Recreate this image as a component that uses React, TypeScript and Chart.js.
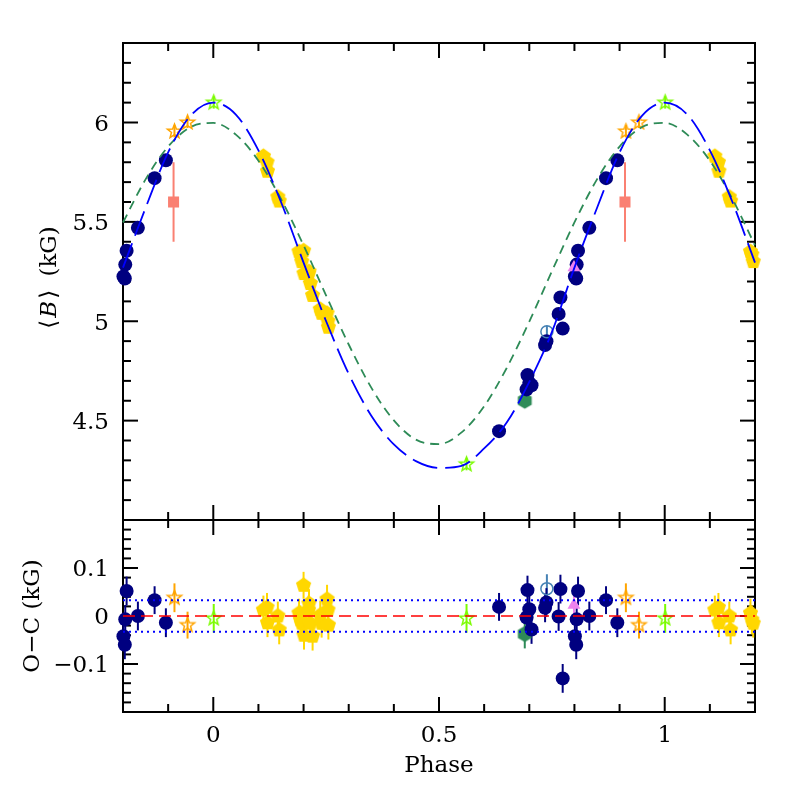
import React, { useEffect, useRef } from 'react';
import { Chart, registerables } from 'chart.js';

Chart.register(...registerables);

// ---------- axis ranges & tick labels ----------
const X_MIN = -0.2;
const X_MAX = 1.2;
const TOP_Y_MIN = 4.0;
const TOP_Y_MAX = 6.4;
const OC_MIN = -0.2;
const OC_MAX = 0.2;

const xTickValues = [0, 0.5, 1];
const xTickLabels = ['0', '0.5', '1'];
const topYTickValues = [4.5, 5, 5.5, 6];
const topYTickLabels = ['4.5', '5', '5.5', '6'];
const ocTickValues = [-0.1, 0, 0.1];
const ocTickLabels = ['\u22120.1', '0', '0.1'];

// ---------- model curves ----------
const curvePhase = [
  -0.2, -0.15, -0.1, -0.05, 0, 0.05, 0.1, 0.15, 0.2, 0.25, 0.3, 0.35, 0.4, 0.45, 0.5,
  0.55, 0.6, 0.65, 0.7, 0.75, 0.8, 0.85, 0.9, 0.95, 1.0, 1.05, 1.1, 1.15, 1.2,
];
const fitB = [
  5.27, 5.57, 5.85, 6.035, 6.1, 6.04, 5.86, 5.6, 5.295, 5.0, 4.735, 4.525, 4.38, 4.295, 4.262,
  4.272, 4.36, 4.49, 4.695, 4.945, 5.27, 5.57, 5.85, 6.035, 6.1, 6.04, 5.86, 5.6, 5.295,
];
const sineB = [
  5.497, 5.714, 5.879, 5.977, 5.998, 5.939, 5.808, 5.615, 5.382, 5.129, 4.883, 4.666, 4.501, 4.403, 4.382,
  4.441, 4.572, 4.765, 4.998, 5.251, 5.497, 5.714, 5.879, 5.977, 5.998, 5.939, 5.808, 5.615, 5.382,
];
const ocBand = 0.033;

// ---------- observations (phase in [0,1)) ----------
const navyPhase = [0.633, 0.694, 0.696, 0.7, 0.705, 0.735, 0.738, 0.765, 0.769, 0.774, 0.801, 0.804, 0.805, 0.808, 0.833, 0.87, 0.895];
const navyB = [4.447, 4.657, 4.729, 4.69, 4.678, 4.88, 4.9, 5.037, 5.12, 4.963, 5.225, 5.215, 5.285, 5.355, 5.47, 5.72, 5.81];
const navyOC = [0.019, -0.003, 0.054, 0.014, -0.028, 0.017, 0.028, -0.001, 0.056, -0.13, -0.042, -0.06, -0.007, 0.052, 0.0, 0.033, -0.014];
const navyErr = [0.029, 0.03, 0.03, 0.03, 0.03, 0.03, 0.03, 0.03, 0.03, 0.03, 0.03, 0.03, 0.03, 0.03, 0.03, 0.029, 0.03];

const goldPhase = [0.111, 0.119, 0.12, 0.143, 0.146, 0.19, 0.193, 0.196, 0.2, 0.201, 0.211, 0.212, 0.215, 0.22, 0.237, 0.24, 0.252, 0.254, 0.255];
const goldB = [5.83, 5.8, 5.755, 5.625, 5.605, 5.35, 5.336, 5.3, 5.355, 5.24, 5.24, 5.25, 5.19, 5.13, 5.06, 5.04, 5.04, 5.0, 4.97];
const goldOC = [0.0125, 0.018, -0.014, 0.0, -0.029, 0.006, -0.008, -0.015, 0.064, -0.04, 0.0125, 0.026, -0.015, -0.042, 0.002, -0.015, 0.035, 0.0125, -0.019];
const goldErr = [0.03, 0.03, 0.03, 0.03, 0.03, 0.03, 0.03, 0.03, 0.028, 0.03, 0.03, 0.03, 0.03, 0.03, 0.03, 0.03, 0.03, 0.03, 0.03];

const orangePhase = [0.914, 0.943];
const orangeB = [5.955, 6.0];
const orangeOC = [0.038, -0.019];
const orangeErr = [0.03, 0.028];

const limePhase = [0.001, 0.561];
const limeB = [6.1, 4.28];
const limeOC = [-0.005, -0.005];
const limeErr = [0.03, 0.03];

const salmonPhase = [0.912];
const salmonB = [5.6];
const salmonErr = [0.2];

const steelPhase = [0.739];
const steelB = [4.947];
const steelOC = [0.057];
const steelErr = [0.03];

const violetPhase = [0.799];
const violetB = [5.27];
const violetOC = [0.023];
const violetErr = [0.028];

const hexPhase = [0.69];
const hexB = [4.6];
const hexOC = [-0.0375];
const hexErr = [0.03];

// ---------- helpers ----------
type Pt = { x: number; y: number; e?: number };

function wrapPhases(phases: number[], vals: number[], errs?: number[]): Pt[] {
  const out: Pt[] = [];
  phases.forEach((p, i) => {
    for (const s of [-1, 0, 1]) {
      const x = +(p + s).toFixed(4);
      if (x >= X_MIN && x < X_MAX - 0.001) out.push({ x, y: vals[i], e: errs ? errs[i] : undefined });
    }
  });
  return out;
}

function curve(xs: number[], ys: number[]): Pt[] {
  return xs.map((x, i) => ({ x, y: ys[i] }));
}

function polyCanvas(n: number, r: number, fill: string | null, stroke: string | null, lw: number, inner?: number) {
  const size = Math.ceil(2 * (r + lw)) + 3;
  const c = document.createElement('canvas');
  c.width = size;
  c.height = size;
  const g = c.getContext('2d')!;
  g.translate(size / 2, size / 2);
  g.beginPath();
  const cnt = inner ? n * 2 : n;
  for (let k = 0; k < cnt; k++) {
    const rr = inner ? (k % 2 === 0 ? r : inner) : r;
    const a = -Math.PI / 2 + (k * 2 * Math.PI) / cnt;
    const px = rr * Math.cos(a);
    const py = rr * Math.sin(a);
    if (k === 0) g.moveTo(px, py);
    else g.lineTo(px, py);
  }
  g.closePath();
  if (fill) {
    g.fillStyle = fill;
    g.fill();
  }
  if (stroke) {
    g.strokeStyle = stroke;
    g.lineWidth = lw;
    g.lineJoin = 'miter';
    g.stroke();
  }
  return c;
}

const FONT = '23px "DejaVu Serif"';

type TitlePart = { text: string; italic?: boolean; gap?: number };

type AxesCfg = {
  yMin: number;
  yMax: number;
  yMinorStep: number;
  yMajor: number[];
  yLabels: string[];
  yTitle: TitlePart[];
  yTitleX: number;
  yTitleShift: number;
  showXLabels: boolean;
};

function near(a: number, b: number) {
  return Math.abs(a - b) < 1e-6;
}

function makeAxesPlugin(cfg: AxesCfg) {
  return {
    id: 'axesFrame',
    beforeDatasetsDraw(chart: any) {
      const { ctx, chartArea: a, scales } = chart;
      const xs = scales.x;
      const ys = scales.y;
      ctx.save();
      ctx.strokeStyle = '#000';
      ctx.lineWidth = 2;
      ctx.lineCap = 'butt';
      ctx.strokeRect(a.left, a.top, a.right - a.left, a.bottom - a.top);
      const seg = (x1: number, y1: number, x2: number, y2: number) => {
        ctx.beginPath();
        ctx.moveTo(x1, y1);
        ctx.lineTo(x2, y2);
        ctx.stroke();
      };
      // x ticks (top and bottom edges, inward)
      const nx = Math.round((X_MAX - X_MIN) / 0.1);
      for (let i = 0; i <= nx; i++) {
        const v = X_MIN + i * 0.1;
        const major = xTickValues.some((m) => near(m, v));
        const L = major ? 15 : 8;
        const px = xs.getPixelForValue(v);
        seg(px, a.bottom, px, a.bottom - L);
        seg(px, a.top, px, a.top + L);
      }
      // y ticks (left and right edges, inward)
      const ny = Math.round((cfg.yMax - cfg.yMin) / cfg.yMinorStep);
      for (let i = 0; i <= ny; i++) {
        const v = cfg.yMin + i * cfg.yMinorStep;
        const major = cfg.yMajor.some((m) => near(m, v));
        const L = major ? 15 : 8;
        const py = ys.getPixelForValue(v);
        seg(a.left, py, a.left + L, py);
        seg(a.right, py, a.right - L, py);
      }
      // tick labels
      ctx.fillStyle = '#000';
      ctx.font = FONT;
      ctx.textBaseline = 'alphabetic';
      ctx.textAlign = 'right';
      cfg.yMajor.forEach((v, i) => {
        ctx.fillText(cfg.yLabels[i], a.left - 14, ys.getPixelForValue(v) + 8.4);
      });
      if (cfg.showXLabels) {
        ctx.textAlign = 'center';
        xTickValues.forEach((v, i) => {
          ctx.fillText(xTickLabels[i], xs.getPixelForValue(v), a.bottom + 30);
        });
        ctx.fillText('Phase', xs.getPixelForValue(0.5), a.bottom + 60);
      }
      // rotated y title
      ctx.save();
      ctx.translate(cfg.yTitleX, (a.top + a.bottom) / 2 + cfg.yTitleShift);
      ctx.rotate(-Math.PI / 2);
      const fonts = cfg.yTitle.map((p) => (p.italic ? 'italic ' : '') + FONT);
      const widths = cfg.yTitle.map((p, i) => {
        ctx.font = fonts[i];
        return ctx.measureText(p.text).width + (p.gap || 0);
      });
      let x0 = -widths.reduce((s, w) => s + w, 0) / 2;
      ctx.textAlign = 'left';
      cfg.yTitle.forEach((p, i) => {
        ctx.font = fonts[i];
        ctx.fillText(p.text, x0, 0);
        x0 += widths[i];
      });
      ctx.restore();

      // error bars
      ctx.lineWidth = 2;
      chart.data.datasets.forEach((ds: any) => {
        if (!ds.errColor) return;
        ctx.strokeStyle = ds.errColor;
        ds.data.forEach((p: Pt) => {
          if (!p.e) return;
          const px = xs.getPixelForValue(p.x);
          seg(px, ys.getPixelForValue(p.y - p.e), px, ys.getPixelForValue(p.y + p.e));
        });
      });
      ctx.restore();
    },
  };
}

function pointSet(data: Pt[], style: any, color: string, order: number, extra: any = {}) {
  return {
    data,
    showLine: false,
    pointStyle: style,
    pointRadius: 7,
    pointBackgroundColor: color,
    pointBorderColor: color,
    pointBorderWidth: 0,
    errColor: color,
    clip: false,
    order,
    ...extra,
  };
}

function lineSet(data: Pt[], color: string, dash: number[], width: number, order: number) {
  return {
    data,
    showLine: true,
    borderColor: color,
    borderWidth: width,
    borderDash: dash,
    pointRadius: 0,
    cubicInterpolationMode: 'monotone',
    fill: false,
    clip: false,
    order,
  };
}

function baseOptions(padding: any, yMin: number, yMax: number) {
  return {
    animation: false,
    responsive: false,
    devicePixelRatio: 1,
    events: [],
    layout: { padding, autoPadding: false },
    plugins: { legend: { display: false }, tooltip: { enabled: false } },
    scales: {
      x: { type: 'linear', min: X_MIN, max: X_MAX, display: false },
      y: { type: 'linear', min: yMin, max: yMax, display: false },
    },
  };
}

export default function App() {
  const topRef = useRef<HTMLCanvasElement>(null);
  const botRef = useRef<HTMLCanvasElement>(null);

  useEffect(() => {
    const pentagon = polyCanvas(5, 8, '#FFD700', null, 0);
    const hexagon = polyCanvas(6, 8, '#2E8B57', null, 0);
    const starOrange = polyCanvas(5, 7.5, null, '#FFA500', 1.5, 3.2);
    const starLime = polyCanvas(5, 7.5, null, '#7CFC00', 1.5, 3.2);

    const topData: any = {
      datasets: [
        lineSet(curve(curvePhase, fitB), '#0000FF', [26, 8], 1.8, 0),
        lineSet(curve(curvePhase, sineB), '#2E8B57', [9, 6], 1.8, 1),
        pointSet(wrapPhases(limePhase, limeB, limeErr), starLime, '#7CFC00', 2),
        pointSet(wrapPhases(orangePhase, orangeB, orangeErr), starOrange, '#FFA500', 3),
        pointSet(wrapPhases(steelPhase, steelB, steelErr), 'circle', '#4682B4', 4, {
          pointBackgroundColor: 'rgba(0,0,0,0)',
          pointBorderWidth: 1.5,
          pointRadius: 6,
        }),
        pointSet(wrapPhases(violetPhase, violetB, violetErr), 'triangle', '#EE82EE', 5, { pointRadius: 7.5 }),
        pointSet(wrapPhases(goldPhase, goldB, goldErr), pentagon, '#FFD700', 6),
        pointSet(wrapPhases(navyPhase, navyB, navyErr), 'circle', '#000080', 7),
        pointSet(wrapPhases(hexPhase, hexB, hexErr), hexagon, '#2E8B57', 8),
        pointSet(wrapPhases(salmonPhase, salmonB, salmonErr), 'rect', '#FA8072', 9, { pointRadius: 7.8 }),
      ],
    };

    const botData: any = {
      datasets: [
        lineSet(curve([X_MIN, X_MAX], [0, 0]), '#FF0000', [12, 6], 1.6, 0),
        lineSet(curve([X_MIN, X_MAX], [ocBand, ocBand]), '#0000FF', [2, 4], 2, 0),
        lineSet(curve([X_MIN, X_MAX], [-ocBand, -ocBand]), '#0000FF', [2, 4], 2, 0),
        pointSet(wrapPhases(limePhase, limeOC, limeErr), starLime, '#7CFC00', 2),
        pointSet(wrapPhases(orangePhase, orangeOC, orangeErr), starOrange, '#FFA500', 3),
        pointSet(wrapPhases(steelPhase, steelOC, steelErr), 'circle', '#4682B4', 4, {
          pointBackgroundColor: 'rgba(0,0,0,0)',
          pointBorderWidth: 1.5,
          pointRadius: 6,
        }),
        pointSet(wrapPhases(violetPhase, violetOC, violetErr), 'triangle', '#EE82EE', 5, { pointRadius: 7.5 }),
        pointSet(wrapPhases(goldPhase, goldOC, goldErr), pentagon, '#FFD700', 6),
        pointSet(wrapPhases(navyPhase, navyOC, navyErr), 'circle', '#000080', 7),
        pointSet(wrapPhases(hexPhase, hexOC, hexErr), hexagon, '#2E8B57', 8),
      ],
    };

    const topCfg: AxesCfg = {
      yMin: TOP_Y_MIN,
      yMax: TOP_Y_MAX,
      yMinorStep: 0.1,
      yMajor: topYTickValues,
      yLabels: topYTickLabels,
      yTitle: [
        { text: '\u27E8', gap: 2 },
        { text: 'B', italic: true, gap: 2 },
        { text: '\u27E9', gap: 6 },
        { text: ' (kG)' },
      ],
      yTitleX: 56,
      yTitleShift: -4,
      showXLabels: false,
    };
    const botCfg: AxesCfg = {
      yMin: OC_MIN,
      yMax: OC_MAX,
      yMinorStep: 0.02,
      yMajor: ocTickValues,
      yLabels: ocTickLabels,
      yTitle: [{ text: 'O\u2212C (kG)' }],
      yTitleX: 39,
      yTitleShift: 0,
      showXLabels: true,
    };

    const c1 = new Chart(topRef.current!, {
      type: 'scatter',
      data: topData,
      options: baseOptions({ left: 123, right: 42, top: 43, bottom: 277 }, TOP_Y_MIN, TOP_Y_MAX) as any,
      plugins: [makeAxesPlugin(topCfg)],
    });
    const c2 = new Chart(botRef.current!, {
      type: 'scatter',
      data: botData,
      options: baseOptions({ left: 123, right: 42, top: 520, bottom: 85 }, OC_MIN, OC_MAX) as any,
      plugins: [makeAxesPlugin(botCfg)],
    });
    return () => {
      c1.destroy();
      c2.destroy();
    };
  }, []);

  const cs: React.CSSProperties = { position: 'absolute', left: 0, top: 0, width: 797, height: 797 };
  return (
    <div style={{ position: 'fixed', left: 0, top: 0, width: 797, height: 797, background: '#fff' }}>
      <canvas ref={topRef} width={797} height={797} style={cs} />
      <canvas ref={botRef} width={797} height={797} style={cs} />
    </div>
  );
}
